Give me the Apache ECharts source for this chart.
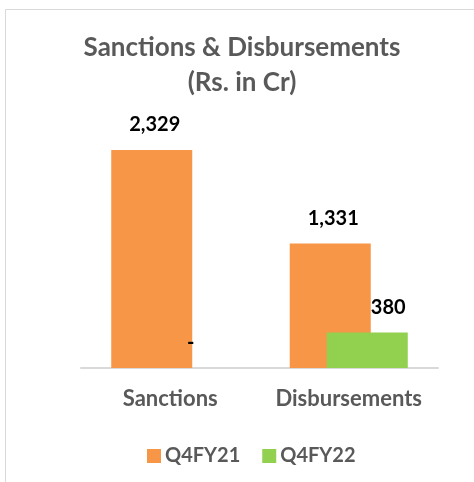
<!DOCTYPE html>
<html>
<head>
<meta charset="utf-8">
<script src="https://cdn.jsdelivr.net/npm/echarts@6/dist/echarts.min.js"></script>
<style>
  html, body { margin: 0; padding: 0; background: #fff; }
  #chart { width: 474px; height: 482px; }
</style>
</head>
<body>
<div id="chart"></div>
<script>
const categories = ['Sanctions', 'Disbursements'];
const q4fy21 = [2329, 1331];
const q4fy22 = [0, 380];
const seriesNames = ['Q4FY21', 'Q4FY22'];

const fontName = 'Lato';
const grey = '#595959';

const fmt = (p) => p.value === 0 ? '-' : p.value.toLocaleString('en-US');

const myChart = echarts.init(document.getElementById('chart'));
const option = {
  animation: false,
  graphic: [{
    type: 'rect',
    shape: {x: 5.5, y: 9.5, width: 520, height: 520},
    style: {fill: 'none', stroke: '#d9d9d9', lineWidth: 1}
  }],
  title: {
    text: 'Sanctions & Disbursements\n(Rs. in Cr)',
    left: 242,
    textAlign: 'center',
    top: 30,
    padding: 0,
    textStyle: {
      fontFamily: fontName,
      fontWeight: 'bold',
      fontSize: 26,
      lineHeight: 35,
      color: grey
    }
  },
  legend: {
    data: seriesNames,
    left: 142,
    top: 441,
    itemWidth: 14,
    itemHeight: 14,
    itemGap: 22,
    icon: 'rect',
    textStyle: {fontFamily: fontName, fontWeight: 'bold', fontSize: 20, color: grey, padding: [0, 0, 0, -1]}
  },
  grid: {left: 81, right: 36, top: 134, bottom: 482 - 368},
  xAxis: {
    type: 'category',
    data: categories,
    axisLine: {lineStyle: {color: '#d9d9d9', width: 2}},
    axisTick: {show: false},
    axisLabel: {interval: 0, fontFamily: fontName, fontWeight: 'bold', fontSize: 22, color: grey, margin: 20}
  },
  yAxis: {
    type: 'value',
    min: 0,
    max: 2500,
    show: false,
    splitLine: {show: false}
  },
  series: [
    {
      name: seriesNames[0],
      type: 'bar',
      data: q4fy21,
      barWidth: 81,
      barGap: '-54.3%',
      itemStyle: {color: '#F79646'},
      label: {
        show: true, position: 'top', distance: 15, formatter: fmt,
        fontFamily: fontName, fontWeight: 'bold', fontSize: 20, color: '#000', offset: [3, 0]
      }
    },
    {
      name: seriesNames[1],
      type: 'bar',
      data: q4fy22.map((v, i) => i === 1 ? {value: v, label: {offset: [21, 0]}} : v),
      barWidth: 81,
      itemStyle: {color: '#92D050'},
      label: {
        show: true, position: 'top', distance: 15, formatter: fmt,
        fontFamily: fontName, fontWeight: 'bold', fontSize: 20, color: '#000', offset: [2, 0]
      }
    }
  ]
};
myChart.setOption(option);
</script>
</body>
</html>
